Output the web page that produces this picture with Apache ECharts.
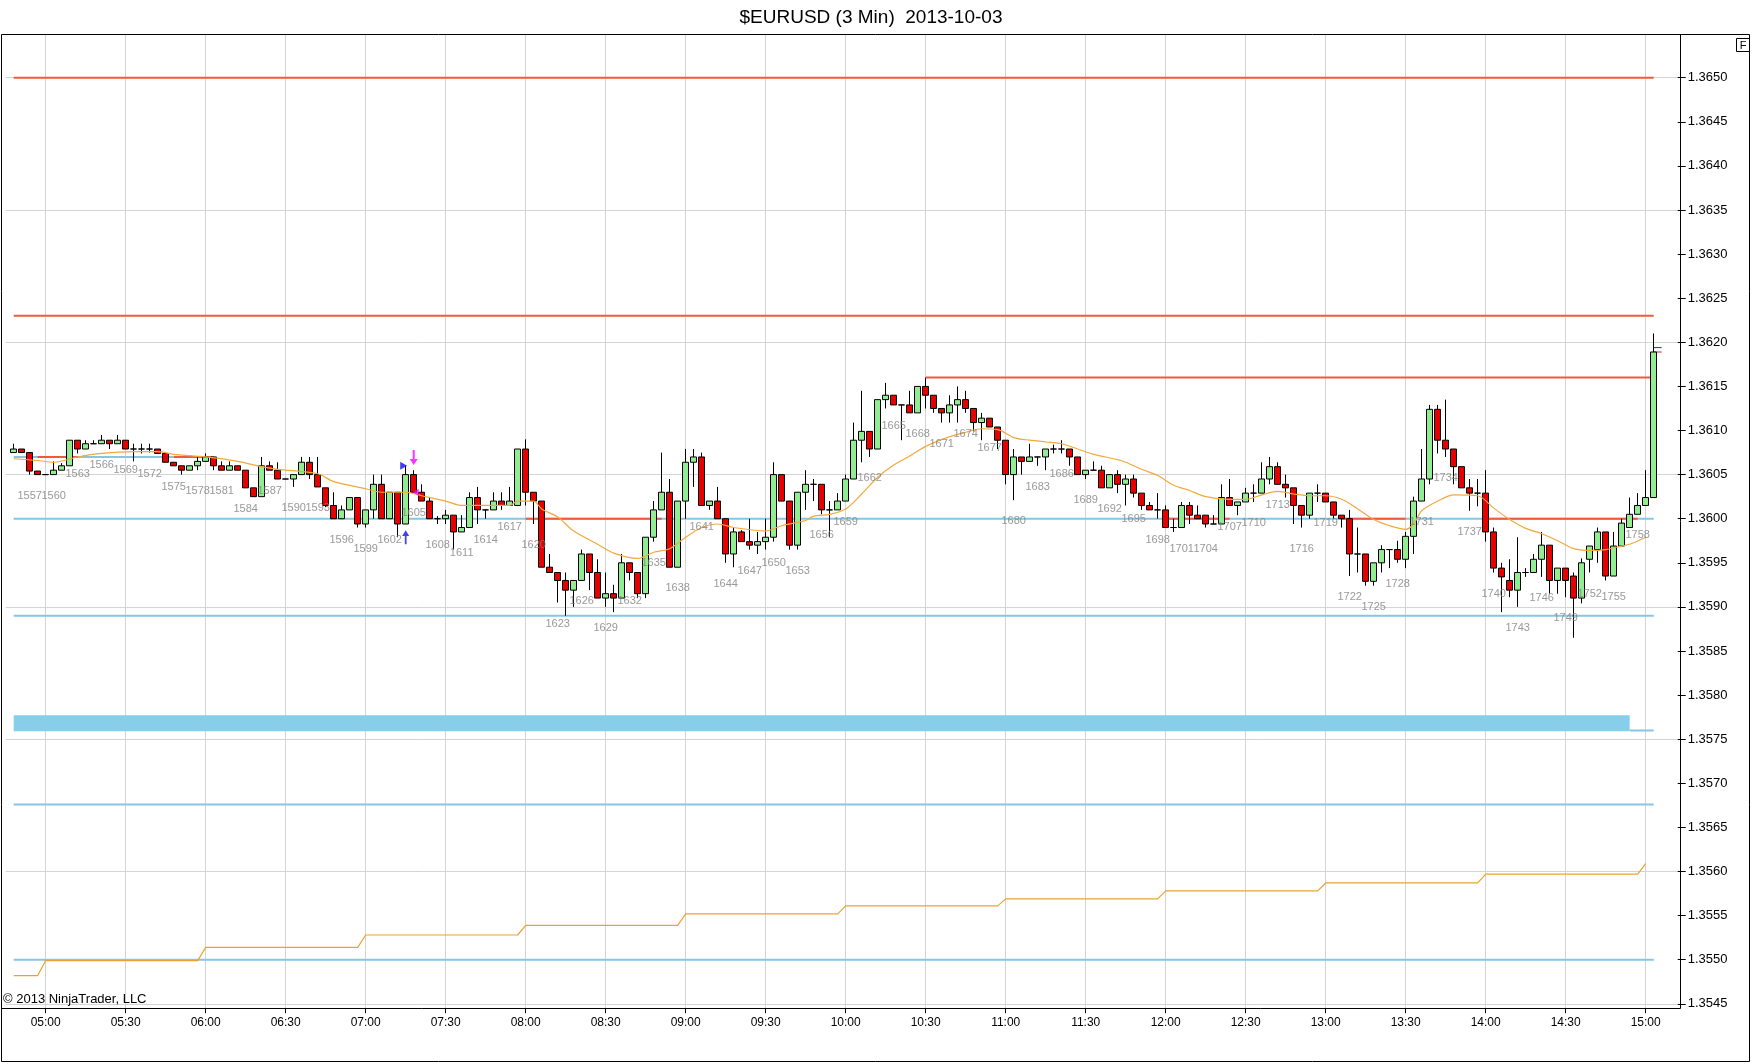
<!DOCTYPE html>
<html>
<head>
<meta charset="utf-8">
<title>$EURUSD (3 Min) 2013-10-03</title>
<script src="https://cdn.jsdelivr.net/npm/echarts@6/dist/echarts.min.js"></script>
<style>
  html, body { margin: 0; padding: 0; background: #fff; }
  #chart { width: 1752px; height: 1064px; }
</style>
</head>
<body>
<div id="chart"></div>
<script>
// 3 minute bars. slot 0 = 04:45 (empty), slot 1 = 04:48 ... slot 206 = 15:03, slots 207-209 empty
var slotCount = 210;
var firstBarNumber = 1555; // number of the bar in slot 1

var opens = [
  1.36075, 1.36079, 1.36075, 1.36054, 1.36050, 1.36050, 1.36055, 1.36060, 1.36089, 1.36079,
  1.36085, 1.36085, 1.36089, 1.36085, 1.36089, 1.36079, 1.36079, 1.36079, 1.36079, 1.36074,
  1.36064, 1.36060, 1.36055, 1.36060, 1.36065, 1.36070, 1.36060, 1.36055, 1.36060, 1.36055,
  1.36035, 1.36025, 1.36060, 1.36055, 1.36045, 1.36045, 1.36050, 1.36064, 1.36050, 1.36035,
  1.36015, 1.36000, 1.36010, 1.36024, 1.35994, 1.36010, 1.36039, 1.36000, 1.36030, 1.35994,
  1.36050, 1.36030, 1.36020, 1.36000, 1.36000, 1.36004, 1.35985, 1.35990, 1.36024, 1.36010,
  1.36010, 1.36020, 1.36015, 1.36015, 1.36079, 1.36030, 1.36020, 1.35945, 1.35939, 1.35930,
  1.35919, 1.35930, 1.35960, 1.35939, 1.35910, 1.35915, 1.35910, 1.35950, 1.35939, 1.35915,
  1.35979, 1.36010, 1.36030, 1.35945, 1.36020, 1.36064, 1.36070, 1.36015, 1.36020, 1.36000,
  1.35960, 1.35985, 1.35974, 1.35970, 1.35974, 1.35979, 1.36050, 1.36020, 1.35970, 1.36030,
  1.36039, 1.36039, 1.36010, 1.36010, 1.36020, 1.36045, 1.36089, 1.36099, 1.36079, 1.36135,
  1.36140, 1.36129, 1.36129, 1.36120, 1.36150, 1.36140, 1.36125, 1.36120, 1.36129, 1.36135,
  1.36125, 1.36109, 1.36114, 1.36104, 1.36089, 1.36050, 1.36070, 1.36065, 1.36070, 1.36070,
  1.36079, 1.36079, 1.36079, 1.36070, 1.36050, 1.36055, 1.36055, 1.36035, 1.36050, 1.36039,
  1.36045, 1.36029, 1.36015, 1.36010, 1.36010, 1.35990, 1.35990, 1.36015, 1.36004, 1.36004,
  1.35994, 1.35994, 1.36024, 1.36015, 1.36019, 1.36029, 1.36029, 1.36045, 1.36059, 1.36039,
  1.36035, 1.36015, 1.36004, 1.36029, 1.36029, 1.36019, 1.36004, 1.36000, 1.35960, 1.35960,
  1.35929, 1.35950, 1.35965, 1.35965, 1.35954, 1.35980, 1.36020, 1.36045, 1.36124, 1.36089,
  1.36079, 1.36059, 1.36035, 1.36029, 1.36029, 1.35985, 1.35944, 1.35930, 1.35919, 1.35939,
  1.35939, 1.35954, 1.35970, 1.35930, 1.35944, 1.35935, 1.35910, 1.35954, 1.35965, 1.35985,
  1.35935, 1.35969, 1.35990, 1.36005, 1.36015, 1.36024
];

var closes = [
  1.36079, 1.36075, 1.36054, 1.36050, 1.36050, 1.36055, 1.36060, 1.36089, 1.36079, 1.36085,
  1.36085, 1.36089, 1.36085, 1.36089, 1.36079, 1.36079, 1.36079, 1.36079, 1.36074, 1.36064,
  1.36060, 1.36055, 1.36060, 1.36065, 1.36070, 1.36060, 1.36055, 1.36060, 1.36055, 1.36035,
  1.36025, 1.36060, 1.36055, 1.36045, 1.36045, 1.36050, 1.36064, 1.36050, 1.36036, 1.36015,
  1.36000, 1.36010, 1.36024, 1.35994, 1.36010, 1.36039, 1.36000, 1.36030, 1.35994, 1.36050,
  1.36030, 1.36020, 1.36000, 1.36000, 1.36004, 1.35985, 1.35990, 1.36024, 1.36010, 1.36010,
  1.36020, 1.36015, 1.36020, 1.36079, 1.36030, 1.36020, 1.35945, 1.35939, 1.35930, 1.35919,
  1.35930, 1.35960, 1.35939, 1.35910, 1.35915, 1.35910, 1.35950, 1.35939, 1.35915, 1.35979,
  1.36010, 1.36030, 1.35945, 1.36020, 1.36064, 1.36070, 1.36015, 1.36020, 1.36000, 1.35960,
  1.35985, 1.35974, 1.35970, 1.35974, 1.35979, 1.36050, 1.36020, 1.35970, 1.36030, 1.36039,
  1.36039, 1.36010, 1.36010, 1.36020, 1.36045, 1.36089, 1.36099, 1.36079, 1.36135, 1.36140,
  1.36129, 1.36129, 1.36120, 1.36150, 1.36140, 1.36125, 1.36120, 1.36129, 1.36135, 1.36125,
  1.36109, 1.36114, 1.36104, 1.36089, 1.36050, 1.36070, 1.36065, 1.36070, 1.36070, 1.36079,
  1.36079, 1.36079, 1.36070, 1.36050, 1.36055, 1.36055, 1.36035, 1.36050, 1.36039, 1.36045,
  1.36029, 1.36015, 1.36010, 1.36010, 1.35990, 1.35990, 1.36015, 1.36004, 1.36000, 1.35994,
  1.35994, 1.36024, 1.36015, 1.36019, 1.36029, 1.36029, 1.36045, 1.36059, 1.36039, 1.36035,
  1.36015, 1.36004, 1.36029, 1.36029, 1.36019, 1.36004, 1.36000, 1.35960, 1.35960, 1.35929,
  1.35950, 1.35965, 1.35965, 1.35954, 1.35980, 1.36020, 1.36045, 1.36124, 1.36089, 1.36079,
  1.36059, 1.36035, 1.36029, 1.36029, 1.35985, 1.35944, 1.35934, 1.35919, 1.35939, 1.35939,
  1.35954, 1.35970, 1.35930, 1.35944, 1.35930, 1.35910, 1.35950, 1.35969, 1.35985, 1.35935,
  1.35969, 1.35995, 1.36005, 1.36015, 1.36024, 1.36189
];

var highs = [
  1.36085, 1.36079, 1.36075, 1.36054, 1.36050, 1.36065, 1.36063, 1.36089, 1.36089, 1.36089,
  1.36089, 1.36095, 1.36089, 1.36095, 1.36089, 1.36085, 1.36085, 1.36085, 1.36079, 1.36074,
  1.36064, 1.36060, 1.36060, 1.36070, 1.36074, 1.36070, 1.36065, 1.36065, 1.36060, 1.36055,
  1.36035, 1.36070, 1.36065, 1.36064, 1.36045, 1.36050, 1.36070, 1.36070, 1.36070, 1.36035,
  1.36030, 1.36015, 1.36024, 1.36024, 1.36010, 1.36050, 1.36050, 1.36030, 1.36030, 1.36060,
  1.36055, 1.36039, 1.36024, 1.36003, 1.36010, 1.36004, 1.36004, 1.36030, 1.36036, 1.36010,
  1.36030, 1.36030, 1.36036, 1.36079, 1.36090, 1.36030, 1.36020, 1.35960, 1.35939, 1.35939,
  1.35930, 1.35965, 1.35960, 1.35954, 1.35939, 1.35925, 1.35960, 1.35950, 1.35939, 1.35979,
  1.36020, 1.36075, 1.36045, 1.36020, 1.36079, 1.36079, 1.36075, 1.36020, 1.36036, 1.36000,
  1.35990, 1.35987, 1.36000, 1.35985, 1.36000, 1.36064, 1.36050, 1.36020, 1.36030, 1.36055,
  1.36045, 1.36039, 1.36020, 1.36029, 1.36050, 1.36109, 1.36145, 1.36099, 1.36135, 1.36154,
  1.36140, 1.36129, 1.36145, 1.36150, 1.36160, 1.36140, 1.36125, 1.36140, 1.36150, 1.36145,
  1.36125, 1.36120, 1.36114, 1.36104, 1.36089, 1.36079, 1.36070, 1.36085, 1.36070, 1.36079,
  1.36084, 1.36089, 1.36079, 1.36070, 1.36055, 1.36065, 1.36060, 1.36050, 1.36055, 1.36050,
  1.36050, 1.36029, 1.36019, 1.36029, 1.36015, 1.36000, 1.36019, 1.36019, 1.36015, 1.36004,
  1.36004, 1.36039, 1.36045, 1.36019, 1.36035, 1.36039, 1.36064, 1.36070, 1.36064, 1.36050,
  1.36035, 1.36015, 1.36029, 1.36039, 1.36029, 1.36019, 1.36004, 1.36010, 1.35990, 1.35960,
  1.35950, 1.35970, 1.35965, 1.35975, 1.35985, 1.36025, 1.36079, 1.36129, 1.36129, 1.36135,
  1.36079, 1.36059, 1.36045, 1.36045, 1.36055, 1.35990, 1.35950, 1.35954, 1.35979, 1.35944,
  1.35960, 1.35985, 1.35970, 1.35944, 1.35944, 1.35939, 1.35955, 1.35969, 1.35990, 1.35985,
  1.35985, 1.36000, 1.36024, 1.36029, 1.36055, 1.36210
];

var lows = [
  1.36075, 1.36075, 1.36050, 1.36050, 1.36050, 1.36050, 1.36055, 1.36060, 1.36074, 1.36079,
  1.36085, 1.36085, 1.36079, 1.36085, 1.36079, 1.36065, 1.36074, 1.36075, 1.36074, 1.36064,
  1.36060, 1.36050, 1.36055, 1.36055, 1.36065, 1.36055, 1.36055, 1.36055, 1.36055, 1.36035,
  1.36025, 1.36025, 1.36055, 1.36045, 1.36045, 1.36036, 1.36050, 1.36045, 1.36036, 1.36013,
  1.36000, 1.36000, 1.36010, 1.35990, 1.35990, 1.36000, 1.36000, 1.36000, 1.35979, 1.35994,
  1.36030, 1.36020, 1.36000, 1.35994, 1.35994, 1.35965, 1.35985, 1.35990, 1.35994, 1.36000,
  1.36010, 1.36010, 1.36015, 1.36015, 1.36015, 1.35994, 1.35945, 1.35939, 1.35905, 1.35890,
  1.35900, 1.35930, 1.35919, 1.35910, 1.35900, 1.35894, 1.35910, 1.35930, 1.35910, 1.35910,
  1.35974, 1.36010, 1.35945, 1.35945, 1.36000, 1.36036, 1.36015, 1.36010, 1.36000, 1.35950,
  1.35945, 1.35974, 1.35965, 1.35960, 1.35965, 1.35974, 1.36020, 1.35965, 1.35965, 1.36010,
  1.36020, 1.36005, 1.35979, 1.36010, 1.36020, 1.36045, 1.36064, 1.36070, 1.36079, 1.36125,
  1.36129, 1.36089, 1.36120, 1.36120, 1.36125, 1.36120, 1.36109, 1.36109, 1.36109, 1.36120,
  1.36099, 1.36089, 1.36104, 1.36079, 1.36039, 1.36021, 1.36050, 1.36065, 1.36060, 1.36055,
  1.36074, 1.36074, 1.36060, 1.36050, 1.36045, 1.36055, 1.36035, 1.36035, 1.36029, 1.36015,
  1.36024, 1.36010, 1.36010, 1.36000, 1.35990, 1.35985, 1.35990, 1.35994, 1.36000, 1.35990,
  1.35994, 1.35994, 1.36015, 1.36004, 1.36019, 1.36019, 1.36029, 1.36039, 1.36039, 1.36024,
  1.35994, 1.35990, 1.36000, 1.36019, 1.36019, 1.36000, 1.35990, 1.35935, 1.35939, 1.35924,
  1.35924, 1.35939, 1.35944, 1.35950, 1.35944, 1.35960, 1.36020, 1.36039, 1.36074, 1.36070,
  1.36039, 1.36035, 1.36009, 1.36014, 1.35974, 1.35939, 1.35894, 1.35911, 1.35900, 1.35934,
  1.35939, 1.35934, 1.35915, 1.35915, 1.35911, 1.35865, 1.35904, 1.35939, 1.35950, 1.35930,
  1.35935, 1.35969, 1.35990, 1.36005, 1.36015, 1.36024
];

// moving average: [slot, price]
var emaPoints = [
  [1, 1.36068], [4, 1.36066], [6, 1.36064], [9, 1.36070], [12, 1.36074], [16, 1.36076],
  [19, 1.36076], [21, 1.36073], [25, 1.36070], [29, 1.36065], [32, 1.36059], [34, 1.36056],
  [39, 1.36051], [41, 1.36042], [45, 1.36034], [47, 1.36030], [50, 1.36030], [52, 1.36026],
  [55, 1.36020], [57, 1.36015], [60, 1.36015], [63, 1.36015], [64, 1.36020], [66, 1.36020],
  [67, 1.36011], [69, 1.36002], [71, 1.35986], [74, 1.35971], [76, 1.35961], [79, 1.35955],
  [81, 1.35962], [83, 1.35966], [85, 1.35979], [87, 1.35990], [89, 1.35994], [91, 1.35990],
  [95, 1.35986], [97, 1.35992], [100, 1.35998], [101, 1.36003], [103, 1.36005], [105, 1.36011],
  [107, 1.36028], [109, 1.36047], [111, 1.36061], [113, 1.36071], [115, 1.36082], [118, 1.36093],
  [120, 1.36098], [122, 1.36102], [124, 1.36101], [126, 1.36092], [128, 1.36089], [130, 1.36087],
  [132, 1.36085], [134, 1.36079], [136, 1.36073], [139, 1.36067], [140, 1.36064], [142, 1.36056],
  [144, 1.36049], [146, 1.36038], [148, 1.36032], [150, 1.36025], [153, 1.36022], [155, 1.36022],
  [157, 1.36027], [159, 1.36031], [161, 1.36028], [163, 1.36026], [165, 1.36026], [167, 1.36022],
  [169, 1.36011], [171, 1.35999], [173, 1.35992], [175, 1.35988], [176, 1.35994], [177, 1.36009],
  [179, 1.36020], [181, 1.36027], [184, 1.36026], [186, 1.36012], [188, 1.35999], [190, 1.35989],
  [192, 1.35983], [194, 1.35975], [196, 1.35966], [198, 1.35964], [200, 1.35965], [202, 1.35969],
  [203, 1.35971], [205, 1.35979]
];

// hourly stepped level (orange, bottom)
var pivotStarts = [1, 5, 25, 45, 65, 85, 105, 125, 145, 165, 185, 205];
var pivotLevels = [1.35482, 1.35499, 1.35514, 1.35528, 1.35539, 1.35552, 1.35561, 1.35569, 1.35578, 1.35587, 1.35597, 1.35609];

// horizontal levels: [price, fromSlot, toSlot]
var redLevels = [
  [1.36500, 1, 206], [1.36230, 1, 206], [1.36160, 115, 206],
  [1.36070, 4, 9], [1.36070, 21, 26],
  [1.36000, 65, 82], [1.36000, 145, 153], [1.36000, 167, 175], [1.36000, 185, 204]
];
var blueLevels = [
  [1.36070, 1, 21], [1.36000, 1, 206], [1.35890, 1, 206],
  [1.35760, 203, 206], [1.35676, 1, 206], [1.35500, 1, 206]
];
var zoneLevels = [[1.35768, 1, 203]];
var lastPriceMarks = [[1.36194, 206, 207, 'blue'], [1.36189, 206, 207, 'red']];

// signal markers: [slot, price, kind]
var markers = [
  [51, 1.360695, 'sellArrow'],
  [50, 1.359789, 'buyArrow'],
  [50, 1.36060, 'buyFlag'],
  [51, 1.36030, 'sellFlag']
];

var priceTicks = [1.3545, 1.3550, 1.3555, 1.3560, 1.3565, 1.3570, 1.3575, 1.3580, 1.3585, 1.3590, 1.3595,
  1.3600, 1.3605, 1.3610, 1.3615, 1.3620, 1.3625, 1.3630, 1.3635, 1.3640, 1.3645, 1.3650];
var gridTicks = [1.3545, 1.3560, 1.3575, 1.3590, 1.3605, 1.3620, 1.3635, 1.3650];

function pad(n) { return n < 10 ? '0' + n : '' + n; }

var slotTimes = [];
for (var s = 0; s < slotCount; s++) {
  var mins = 4 * 60 + 45 + 3 * s;
  slotTimes.push(pad(Math.floor(mins / 60)) + ':' + pad(mins % 60));
}

var candleData = [];
for (var k = 0; k < opens.length; k++) {
  candleData.push([k + 1, opens[k], closes[k], lows[k], highs[k]]);
}

// bar numbers every third bar, placed under the low
var labelData = [];
for (var k2 = 0; k2 < lows.length; k2++) {
  var num = firstBarNumber + k2;
  if (num % 3 === 0) labelData.push([k2 + 1, lows[k2], String(num)]);
}

var pivotData = [];
for (var p = 0; p < pivotLevels.length; p++) {
  pivotData.push([pivotStarts[p], pivotLevels[p]]);
  if (p + 1 < pivotStarts.length) pivotData.push([pivotStarts[p + 1] - 1, pivotLevels[p]]);
}

var RED = '#EF5A3D';
var BLUE = '#86C5E4';

function levelSeries(lv, color, width, z) {
  return {
    type: 'line',
    data: [[lv[1], lv[0]], [lv[2], lv[0]]],
    symbol: 'none',
    silent: true,
    lineStyle: { color: color, width: width, cap: 'butt' },
    z: z
  };
}

var series = [];
blueLevels.forEach(function (lv) { series.push(levelSeries(lv, BLUE, 2, 1)); });
zoneLevels.forEach(function (lv) { series.push(levelSeries(lv, '#87CEEB', 16, 1)); });
redLevels.forEach(function (lv) { series.push(levelSeries(lv, RED, 2, 1)); });
lastPriceMarks.forEach(function (lv) {
  series.push(levelSeries(lv, lv[3] === 'blue' ? '#2233DD' : '#DD2222', 1, 3));
});

series.push({
  type: 'line',
  data: pivotData,
  symbol: 'none',
  silent: true,
  lineStyle: { color: '#EBA232', width: 1.2 },
  z: 2
});

series.push({
  type: 'candlestick',
  data: candleData,
  encode: { x: 0, y: [1, 2, 3, 4] },
  barWidth: 6,
  silent: true,
  clip: false,
  itemStyle: {
    color: '#90EE90',
    color0: '#E80000',
    borderColor: '#000000',
    borderColor0: '#000000',
    borderColorDoji: '#000000',
    borderWidth: 1
  },
  z: 3
});

series.push({
  type: 'line',
  data: emaPoints,
  symbol: 'none',
  smooth: 0.3,
  silent: true,
  lineStyle: { color: '#F2A93B', width: 1.2 },
  z: 4
});

series.push({
  type: 'scatter',
  data: labelData,
  symbolSize: 1,
  silent: true,
  itemStyle: { color: 'rgba(0,0,0,0)' },
  label: {
    show: true,
    position: 'inside',
    offset: [0, 21],
    color: '#808080',
    fontSize: 11,
    fontFamily: 'Liberation Sans, Arial, sans-serif',
    formatter: function (prm) { return prm.data[2]; }
  },
  z: 5
});

var markerStyle = {
  sellArrow: { symbol: 'path://M3,0 L5,0 L5,9 L8,9 L4,15 L0,9 L3,9 Z', symbolSize: [8, 15], symbolRotate: 0, symbolOffset: [0, 0], color: '#FF00FF' },
  buyArrow: { symbol: 'path://M4,0 L8,6 L5,6 L5,15 L3,15 L3,6 L0,6 Z', symbolSize: [7, 14], symbolRotate: 0, symbolOffset: [0, 0], color: '#1111EE' },
  buyFlag: { symbol: 'triangle', symbolSize: [8, 7], symbolRotate: -90, symbolOffset: [-2, 0], color: '#1111EE' },
  sellFlag: { symbol: 'triangle', symbolSize: [7, 6], symbolRotate: 90, symbolOffset: [2, 0], color: '#FF00FF' }
};

series.push({
  type: 'scatter',
  silent: true,
  data: markers.map(function (m) {
    var st = markerStyle[m[2]];
    return {
      value: [m[0], m[1]],
      symbol: st.symbol,
      symbolSize: st.symbolSize,
      symbolRotate: st.symbolRotate,
      symbolOffset: st.symbolOffset,
      itemStyle: { color: st.color }
    };
  }),
  z: 6
});

function halfHour(index) { return index % 10 === 5; }

var option = {
  animation: false,
  backgroundColor: '#ffffff',
  textStyle: { fontFamily: 'Liberation Sans, Arial, sans-serif' },
  grid: { left: 5.7, right: 74.3, top: 34.5, bottom: 55.8, show: false },
  xAxis: {
    type: 'category',
    data: slotTimes,
    boundaryGap: false,
    axisLine: { show: false },
    axisTick: { show: true, interval: halfHour, length: 5, lineStyle: { color: '#000' } },
    axisLabel: { interval: halfHour, color: '#000', fontSize: 12, margin: 8 },
    splitLine: { show: true, interval: halfHour, lineStyle: { color: '#d4d4d4', width: 1 } }
  },
  yAxis: [
    {
      type: 'value',
      position: 'right',
      min: 1.35445,
      max: 1.36549,
      axisLine: { show: false },
      axisTick: { show: true, customValues: priceTicks, length: 8, lineStyle: { color: '#000' } },
      axisLabel: {
        show: true,
        customValues: priceTicks,
        color: '#000',
        fontSize: 13,
        margin: 10,
        formatter: function (v) { return v.toFixed(4); }
      },
      splitLine: { show: false }
    },
    {
      type: 'value',
      position: 'right',
      min: 1.35445,
      max: 1.36549,
      axisLine: { show: false },
      axisTick: { show: false, customValues: gridTicks },
      axisLabel: { show: false, customValues: gridTicks },
      splitLine: { show: true, lineStyle: { color: '#d4d4d4', width: 1 } }
    }
  ],
  graphic: [
    { type: 'rect', silent: true, shape: { x: 1.5, y: 34.5, width: 1748, height: 1027 },
      style: { fill: 'none', stroke: '#000', lineWidth: 1 }, z: 100 },
    { type: 'line', silent: true, shape: { x1: 1680.5, y1: 34.5, x2: 1680.5, y2: 1008.5 },
      style: { stroke: '#000', lineWidth: 1 }, z: 100 },
    { type: 'line', silent: true, shape: { x1: 1.5, y1: 1008.5, x2: 1680.5, y2: 1008.5 },
      style: { stroke: '#000', lineWidth: 1 }, z: 100 },
    { type: 'rect', silent: true, shape: { x: 1736.5, y: 38.5, width: 13, height: 13 },
      style: { fill: '#fff', stroke: '#000', lineWidth: 1 }, z: 100 },
    { type: 'text', silent: true, x: 1743, y: 45.5, z: 101,
      style: { text: 'F', fontSize: 11, fill: '#000', align: 'center', verticalAlign: 'middle',
        fontFamily: 'Liberation Sans, Arial, sans-serif' } },
    { type: 'text', silent: true, x: 871, y: 17.5, z: 101,
      style: { text: '$EURUSD (3 Min)  2013-10-03', fontSize: 19, fill: '#000', align: 'center',
        verticalAlign: 'middle', fontFamily: 'Liberation Sans, Arial, sans-serif' } },
    { type: 'text', silent: true, x: 3, y: 999, z: 101,
      style: { text: '\u00A9 2013 NinjaTrader, LLC', fontSize: 13, fill: '#000', align: 'left',
        verticalAlign: 'middle', fontFamily: 'Liberation Sans, Arial, sans-serif' } }
  ],
  series: series
};

var chart = echarts.init(document.getElementById('chart'));
chart.setOption(option);
</script>
</body>
</html>
